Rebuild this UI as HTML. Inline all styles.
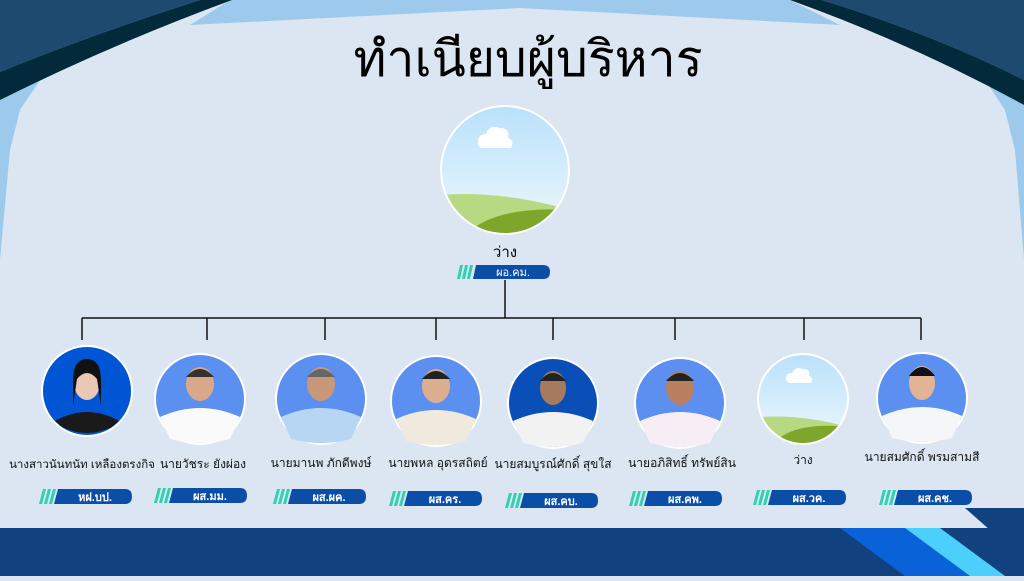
<!DOCTYPE html><html><head><meta charset="utf-8"><style>
body{margin:0;width:1024px;height:576px;overflow:hidden;background:#dbe6f2}
text{font-family:"Liberation Sans","Noto Sans CJK SC",sans-serif}
</style></head><body>
<svg width="1024" height="576" viewBox="0 0 1024 576" xmlns="http://www.w3.org/2000/svg">
<defs>
<linearGradient id="sky" x1="0" y1="0" x2="0" y2="1"><stop offset="0" stop-color="#b9e1fb"/><stop offset="1" stop-color="#eef8fd"/></linearGradient>
<clipPath id="c0"><circle cx="505" cy="170" r="63"/></clipPath>
</defs>
<rect width="1024" height="576" fill="#dbe6f2"/>
<!-- top decorations -->
<polygon points="230,0 790,0 840,25 520,8 190,25" fill="#9dcaec"/>
<polygon points="0,80 25,65 40,80 20,110 10,150 0,260" fill="#9dcaec"/>
<polygon points="1024,80 1000,68 985,80 1005,110 1015,150 1024,260" fill="#9dcaec"/>
<path d="M0,0 L200,0 Q90,35 0,72 Z" fill="#1f4a70"/>
<path d="M200,0 L232,0 Q110,45 0,100 L0,72 Q90,35 200,0Z" fill="#022a3a"/>
<path d="M1024,0 L822,0 Q935,35 1024,80 Z" fill="#1f4a70"/>
<path d="M822,0 L790,0 Q915,45 1024,105 L1024,80 Q935,35 822,0Z" fill="#022a3a"/>
<!-- bottom -->
<rect y="528" width="1024" height="48" fill="#12417f"/>
<polygon points="840,528 905,528 970,576 905,576" fill="#0a62d8"/>
<polygon points="905,528 940,528 1005,576 970,576" fill="#4bcffb"/>
<polygon points="965,508 1024,508 1024,560" fill="#12417f"/>
<!-- title -->
<text x="528" y="76" font-size="50" text-anchor="middle" fill="#000">ทำเนียบผู้บริหาร</text>
<!-- top circle -->
<circle cx="505" cy="170" r="65" fill="#fff"/>
<g clip-path="url(#c0)"><rect x="440" y="105" width="130" height="130" fill="url(#sky)"/>
<path d="M440,195 Q500,190 570,210 L570,240 L440,240Z" fill="#b7d982"/>
<path d="M460,240 Q490,205 570,210 L570,240Z" fill="#7ea62a"/></g>
<path d="M478,142 q0,-8 8,-8 q3,-10 14,-6 q10,0 8,10 q7,2 3,10 h-30 q-4,-3 -3,-6z" fill="#fff"/>
<text x="505" y="257" font-size="15" text-anchor="middle">ว่าง</text>
<g transform="translate(458,265)"><polygon points="2,0 5,0 2,14 -1,14" fill="#2fd1b0"/><polygon points="7,0 10,0 7,14 4,14" fill="#2fd1b0"/><polygon points="12,0 15,0 12,14 9,14" fill="#2fd1b0"/><path d="M18,0 H85 Q92,0 92,7 Q92,14 85,14 H15Z" fill="#0b4ea8"/><text x="55" y="11" font-size="11" fill="#fff" text-anchor="middle">ผอ.คม.</text></g>
<!-- connectors -->
<g stroke="#111" stroke-width="1.5" fill="none">
<line x1="505" y1="280" x2="505" y2="318"/>
<line x1="82" y1="318" x2="921" y2="318"/>
<line x1="82" y1="318" x2="82" y2="340"/><line x1="207" y1="318" x2="207" y2="340"/><line x1="325" y1="318" x2="325" y2="340"/><line x1="436" y1="318" x2="436" y2="340"/><line x1="553" y1="318" x2="553" y2="340"/><line x1="675" y1="318" x2="675" y2="340"/><line x1="804" y1="318" x2="804" y2="340"/><line x1="921" y1="318" x2="921" y2="340"/>
</g>
<g font-size="12" text-anchor="middle" fill="#111">
<g transform="translate(87,391)"><circle r="46" fill="#fff"/><circle r="44" fill="#0055d4"/><path d="M-32,30 Q0,12 32,30 L25,36 Q0,48 -25,36Z" fill="#1a1a1a"/><ellipse cy="-8" rx="13" ry="17" fill="#e9c9b3"/><path d="M-14,-10 Q-14,-32 0,-32 Q14,-32 14,-10 L14,15 L10,-12 Q0,-24 -10,-12 L-14,15Z" fill="#111"/></g>
<g transform="translate(200,399)"><circle r="46" fill="#fff"/><circle r="44" fill="#5b8ff0"/><path d="M-40,18 Q0,0 40,18 L30,40 Q0,48 -30,40Z" fill="#fafafa"/><ellipse cy="-15" rx="14" ry="17" fill="#d8a888"/><path d="M-14,-22 Q0,-38 14,-22Z" fill="#333"/></g>
<g transform="translate(321,399)"><circle r="46" fill="#fff"/><circle r="44" fill="#5b8ff0"/><path d="M-40,18 Q0,0 40,18 L30,40 Q0,48 -30,40Z" fill="#b6d6f4"/><ellipse cy="-15" rx="14" ry="17" fill="#c89878"/><path d="M-14,-22 Q0,-38 14,-22Z" fill="#666"/></g>
<g transform="translate(436,401)"><circle r="46" fill="#fff"/><circle r="44" fill="#5b8ff0"/><path d="M-40,18 Q0,0 40,18 L30,40 Q0,48 -30,40Z" fill="#efeadd"/><ellipse cy="-15" rx="14" ry="17" fill="#dcae90"/><path d="M-14,-22 Q0,-38 14,-22Z" fill="#222"/></g>
<g transform="translate(553,403)"><circle r="46" fill="#fff"/><circle r="44" fill="#0a4fb8"/><path d="M-40,18 Q0,0 40,18 L30,40 Q0,48 -30,40Z" fill="#f2f2f2"/><ellipse cy="-15" rx="13" ry="17" fill="#a57a5e"/><path d="M-13,-22 Q0,-38 13,-22Z" fill="#222"/></g>
<g transform="translate(680,403)"><circle r="46" fill="#fff"/><circle r="44" fill="#5b8ff0"/><path d="M-40,18 Q0,0 40,18 L30,40 Q0,48 -30,40Z" fill="#f6eef4"/><ellipse cy="-15" rx="14" ry="17" fill="#b88060"/><path d="M-14,-22 Q0,-38 14,-22Z" fill="#222"/></g>
<g transform="translate(803,399)"><circle r="46" fill="#fff"/><clipPath id="c1"><circle r="44"/></clipPath><g clip-path="url(#c1)"><rect x="-45" y="-45" width="90" height="90" fill="url(#sky)"/><path d="M-45,18 Q0,15 45,28 L45,45 L-45,45Z" fill="#b7d982"/><path d="M-30,45 Q-10,22 45,28 L45,45Z" fill="#7ea62a"/></g><path d="M-17,-20 q0,-6 6,-6 q3,-7 11,-4 q8,0 6,7 q5,2 2,7 h-22 q-3,-2 -3,-4z" fill="#fff"/></g>
<g transform="translate(922,398)"><circle r="46" fill="#fff"/><circle r="44" fill="#5b8ff0"/><path d="M-40,18 Q0,0 40,18 L30,40 Q0,48 -30,40Z" fill="#f4f6f8"/><ellipse cy="-15" rx="13" ry="17" fill="#e0b494"/><path d="M-13,-22 Q0,-40 13,-22Z" fill="#111"/></g>
<text x="82" y="468" font-size="11.5">นางสาวนันทนัท เหลืองตรงกิจ</text>
<text x="203" y="468">นายวัชระ ยังผ่อง</text>
<text x="321" y="467">นายมานพ ภักดีพงษ์</text>
<text x="438" y="467">นายพหล อุดรสถิตย์</text>
<text x="553" y="468">นายสมบูรณ์ศักดิ์ สุขใส</text>
<text x="682" y="467">นายอภิสิทธิ์ ทรัพย์สิน</text>
<text x="803" y="464">ว่าง</text>
<text x="922" y="461">นายสมศักดิ์ พรมสามสี</text>
</g>
<g font-size="11" fill="#fff" text-anchor="middle" font-weight="bold">
<g transform="translate(40,489)"><polygon points="3,0 6,0 2,15 -1,15" fill="#2fd1b0"/><polygon points="8,0 11,0 7,15 4,15" fill="#2fd1b0"/><polygon points="13,0 16,0 12,15 9,15" fill="#2fd1b0"/><path d="M18,0 H85 Q92,0 92,7.5 Q92,15 85,15 H14Z" fill="#0b4ea8"/><text x="55" y="12">หฝ.บป.</text></g>
<g transform="translate(155,488)"><polygon points="3,0 6,0 2,15 -1,15" fill="#2fd1b0"/><polygon points="8,0 11,0 7,15 4,15" fill="#2fd1b0"/><polygon points="13,0 16,0 12,15 9,15" fill="#2fd1b0"/><path d="M18,0 H85 Q92,0 92,7.5 Q92,15 85,15 H14Z" fill="#0b4ea8"/><text x="55" y="12">ผส.มม.</text></g>
<g transform="translate(274,489)"><polygon points="3,0 6,0 2,15 -1,15" fill="#2fd1b0"/><polygon points="8,0 11,0 7,15 4,15" fill="#2fd1b0"/><polygon points="13,0 16,0 12,15 9,15" fill="#2fd1b0"/><path d="M18,0 H85 Q92,0 92,7.5 Q92,15 85,15 H14Z" fill="#0b4ea8"/><text x="55" y="12">ผส.ผค.</text></g>
<g transform="translate(390,491)"><polygon points="3,0 6,0 2,15 -1,15" fill="#2fd1b0"/><polygon points="8,0 11,0 7,15 4,15" fill="#2fd1b0"/><polygon points="13,0 16,0 12,15 9,15" fill="#2fd1b0"/><path d="M18,0 H85 Q92,0 92,7.5 Q92,15 85,15 H14Z" fill="#0b4ea8"/><text x="55" y="12">ผส.คร.</text></g>
<g transform="translate(506,493)"><polygon points="3,0 6,0 2,15 -1,15" fill="#2fd1b0"/><polygon points="8,0 11,0 7,15 4,15" fill="#2fd1b0"/><polygon points="13,0 16,0 12,15 9,15" fill="#2fd1b0"/><path d="M18,0 H85 Q92,0 92,7.5 Q92,15 85,15 H14Z" fill="#0b4ea8"/><text x="55" y="12">ผส.คบ.</text></g>
<g transform="translate(630,491)"><polygon points="3,0 6,0 2,15 -1,15" fill="#2fd1b0"/><polygon points="8,0 11,0 7,15 4,15" fill="#2fd1b0"/><polygon points="13,0 16,0 12,15 9,15" fill="#2fd1b0"/><path d="M18,0 H85 Q92,0 92,7.5 Q92,15 85,15 H14Z" fill="#0b4ea8"/><text x="55" y="12">ผส.คพ.</text></g>
<g transform="translate(754,490)"><polygon points="3,0 6,0 2,15 -1,15" fill="#2fd1b0"/><polygon points="8,0 11,0 7,15 4,15" fill="#2fd1b0"/><polygon points="13,0 16,0 12,15 9,15" fill="#2fd1b0"/><path d="M18,0 H85 Q92,0 92,7.5 Q92,15 85,15 H14Z" fill="#0b4ea8"/><text x="55" y="12">ผส.วค.</text></g>
<g transform="translate(880,490)"><polygon points="3,0 6,0 2,15 -1,15" fill="#2fd1b0"/><polygon points="8,0 11,0 7,15 4,15" fill="#2fd1b0"/><polygon points="13,0 16,0 12,15 9,15" fill="#2fd1b0"/><path d="M18,0 H85 Q92,0 92,7.5 Q92,15 85,15 H14Z" fill="#0b4ea8"/><text x="55" y="12">ผส.คช.</text></g>
</g>
</svg>
</body></html>
